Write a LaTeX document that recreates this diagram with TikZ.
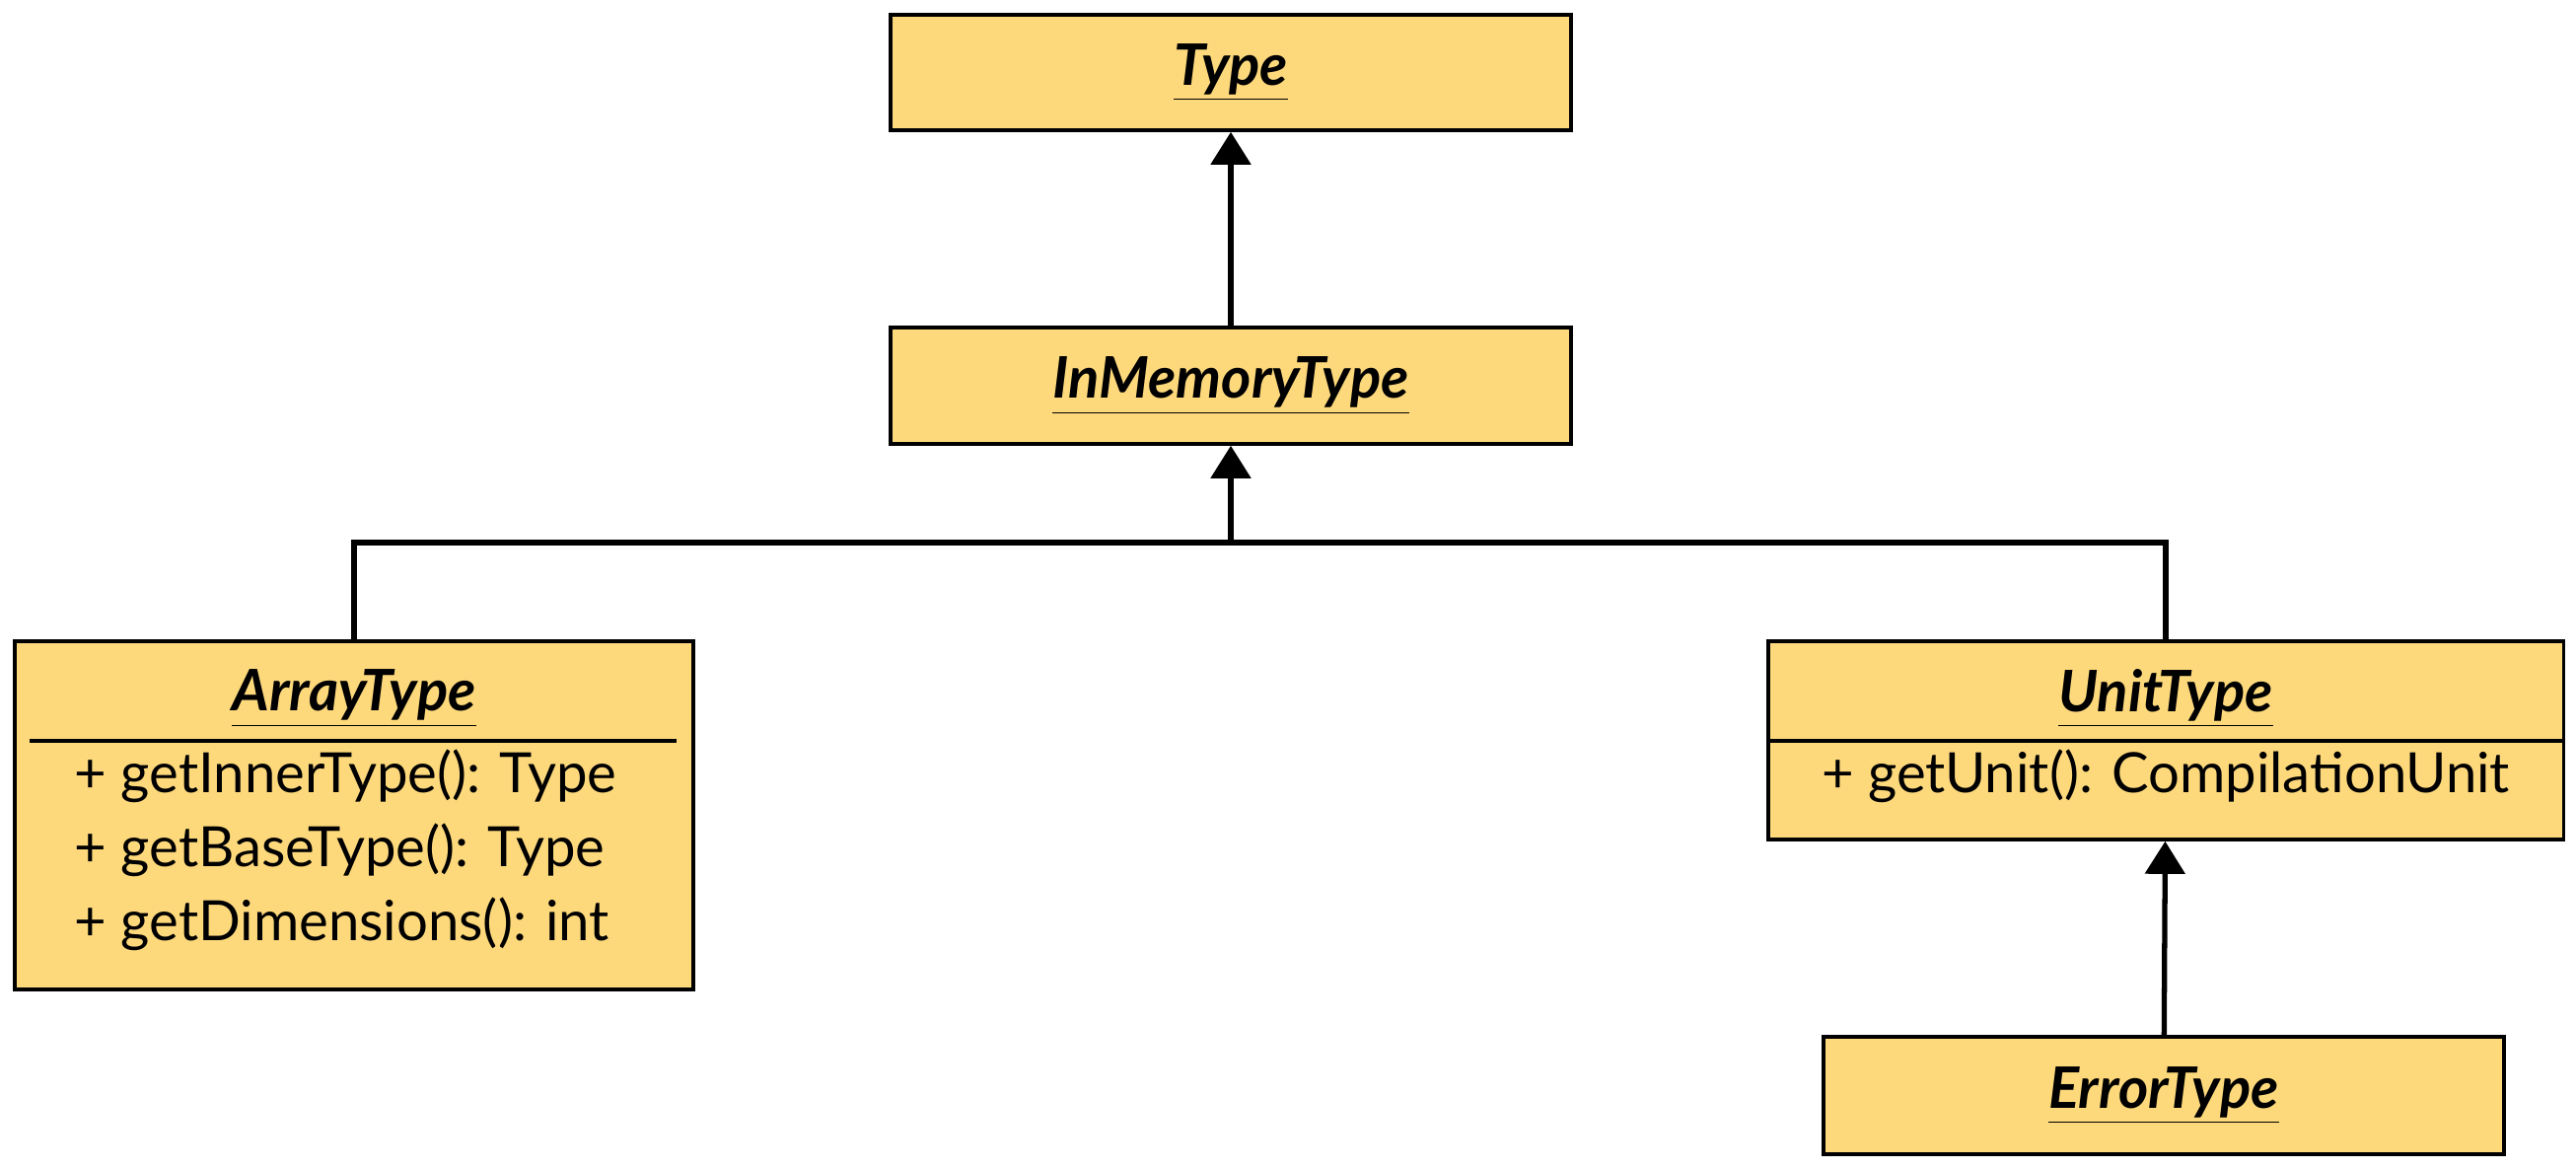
\documentclass[tikz,border=0pt]{standalone}
\usepackage{fontspec}
\setmainfont{Lato}
\usetikzlibrary{arrows.meta}
\definecolor{boxfill}{HTML}{FDD97C}
\begin{document}
\begin{tikzpicture}[x=0.01cm,y=-0.01cm,
  box/.style={draw=black,line width=1pt,fill=boxfill,inner sep=0pt},
  title/.style={font=\fontsize{16.5}{19}\selectfont\bfseries\itshape},
  meth/.style={font=\fontsize{16}{19}\selectfont,anchor=west,inner sep=0pt},
  conn/.style={line width=1.5pt},
  gen/.style={conn,-{Triangle[length=0.33cm,width=0.4cm]}}]
\useasboundingbox (0,0) rectangle (2612,1185);
\node[box,minimum width=6.9cm,minimum height=1.17cm] (type) at (1248,73.5) {};
\node[title] at (type) {\underline{Type}};
\node[box,minimum width=6.9cm,minimum height=1.18cm] (imt) at (1248,391) {};
\node[title] at (imt) {\underline{InMemoryType}};
\node[box,minimum width=6.88cm,minimum height=3.53cm] (arr) at (359,826.5) {};
\node[title] at (359,708) {\underline{ArrayType}};
\draw[line width=1pt] (30,751) -- (686,751);
\node[meth] at (75,787) {+ getInnerType(): Type};
\node[meth] at (75,862) {+ getBaseType(): Type};
\node[meth] at (75,937) {+ getDimensions(): int};
\node[box,minimum width=8.06cm,minimum height=2.01cm] (unit) at (2196,750.5) {};
\node[title] at (2196,708) {\underline{UnitType}};
\draw[line width=1pt] (unit.west |- 0,751) -- (unit.east |- 0,751);
\node[font=\fontsize{16}{19}\selectfont] at (2196,787) {+ getUnit(): CompilationUnit};
\node[box,minimum width=6.9cm,minimum height=1.19cm] (err) at (2194,1110.5) {};
\node[title] at (err) {\underline{ErrorType}};
\draw[gen] (imt) -- (type);
\coordinate (j) at (1248,550);
\draw[conn] (arr.north) |- (j) -| (unit.north);
\draw[gen] (j) -- (imt.south);
\draw[gen] (err) -- (unit);
\end{tikzpicture}
\end{document}
